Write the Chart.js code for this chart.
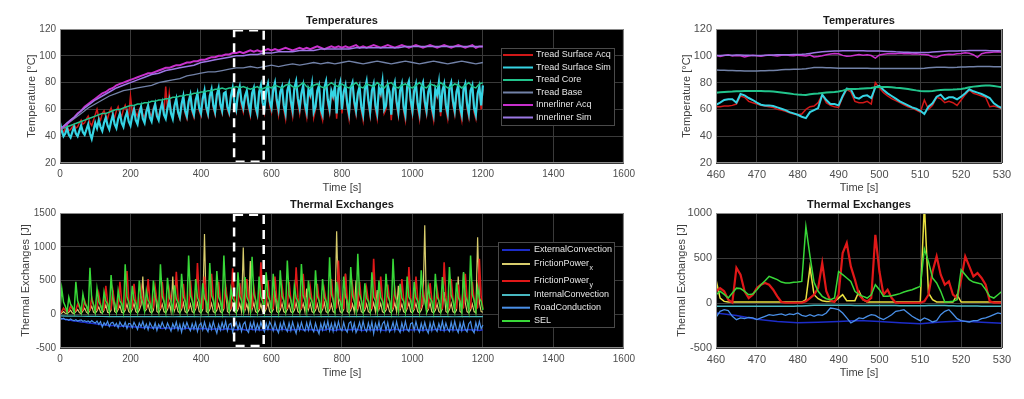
<!DOCTYPE html>
<html>
<head>
<meta charset="utf-8">
<script src="https://cdn.jsdelivr.net/npm/chart.js@4.4.0/dist/chart.umd.min.js"></script>
<style>
  body { margin: 0; background: #fff; width: 1024px; height: 399px; overflow: hidden; position: relative; }
  canvas { position: absolute; }
</style>
</head>
<body>
<canvas id="tempAll" width="640" height="195" style="left:0;top:0"></canvas>
<canvas id="heatAll" width="640" height="204" style="left:0;top:195px"></canvas>
<canvas id="tempZoom" width="384" height="195" style="left:640px;top:0"></canvas>
<canvas id="heatZoom" width="384" height="204" style="left:640px;top:195px"></canvas>
<script>
// ---------- full run (0..1200 s) : temperatures ----------
const TEMP_LABELS = ['Tread Surface Acq', 'Tread Surface Sim', 'Tread Core', 'Tread Base', 'Innerliner Acq', 'Innerliner Sim'];
// every 5 s
const surfAcq = [
  46,45,43,46,48,44,45,47,49,46,47,50,52,49,50,53,55,50,48,52,56,
  60,54,52,57,59,55,53,58,61,56,54,59,62,57,55,60,63,58,56,70,
  58,61,57,55,60,62,56,54,60,63,57,55,61,64,57,55,60,65,58,77,
  60,72,58,54,62,67,57,53,62,68,57,53,64,69,58,54,65,70,59,55,
  66,72,60,55,68,73,61,56,69,74,62,57,70,71,60,56,68,74,63,58,
  70,75,63,58,68,72,61,55,70,74,60,55,71,76,62,57,72,77,63,58,
  73,78,64,56,71,75,60,53,72,77,63,55,74,79,65,57,70,76,61,54,
  73,69,77,54,60,72,76,57,52,74,79,64,57,72,68,75,53,73,78,57,
  71,76,61,53,74,78,63,56,70,75,59,52,73,79,64,55,72,77,60,53,
  74,70,79,57,60,76,71,52,73,78,63,55,72,77,59,52,75,79,64,56,
  72,77,61,53,74,78,63,56,71,76,59,52,73,69,78,55,72,77,60,53,
  74,78,63,56,71,76,59,52,73,77,61,54,72,76,58,53,70,75,60,75
];
const surfSim = [
  50,44,40,42,46,41,39,43,47,42,40,44,48,43,41,45,49,42,38,44,50,
  46,52,47,44,50,54,48,45,51,56,49,46,53,57,50,47,54,58,51,48,
  55,60,52,49,57,62,53,50,58,63,54,51,59,64,55,52,60,65,56,53,
  61,67,57,53,63,68,58,54,64,70,59,55,66,71,60,56,67,72,61,57,
  68,74,62,57,70,75,63,58,71,76,64,59,72,73,62,58,70,76,65,60,
  72,77,66,61,70,74,64,58,72,76,62,57,73,78,65,60,74,79,66,61,
  75,80,67,60,73,77,63,57,74,79,66,59,76,81,68,61,72,78,64,58,
  75,71,79,58,62,74,78,60,56,76,81,67,60,74,70,77,57,75,80,60,
  73,78,64,57,76,80,66,59,72,77,62,56,75,81,67,58,74,79,63,57,
  76,72,81,60,63,78,73,56,75,80,66,58,74,79,62,56,77,81,67,59,
  74,79,64,57,76,80,66,59,73,78,62,56,75,71,80,58,74,79,63,57,
  76,80,66,59,73,78,62,56,75,79,64,57,74,78,61,56,72,77,63,78
];
// every 10 s
const treadCore = [
  45,46,47,48,49,50,51,52,53,54,55,
  56,57,57,58,59,60,60,61,62,63,
  63,64,64,65,65,66,66,67,67,68,
  68,69,69,70,70,71,71,72,72,73,
  73,74,74,75,75,76,75,76,76,77,
  76,77,76,75,76,77,75,76,77,76,
  78,77,76,78,79,77,76,78,80,77,
  76,78,79,77,76,78,80,78,77,79,
  77,76,78,80,77,76,79,78,77,80,
  78,76,79,80,77,76,78,79,77,76,
  78,80,77,76,79,78,77,80,78,76,
  77,79,78,76,78,80,77,76,79,80
];
// every 20 s
const treadBase = [
  45,49,53,57,61,64,67,70,72,74,
  75,76,77,78,80,81,82,83,85,86,
  87,88,88,89,90,91,91,92,91,92,
  93,92,93,94,93,94,95,94,95,94,
  95,96,95,94,95,96,95,94,95,96,
  95,94,95,96,95,94,95,96,95,94,
  95
];
// every 10 s
const innerAcq = [
  45,47,49,52,54,57,59,62,64,66,68,
  70,72,73,75,76,78,79,80,81,82,
  83,84,85,86,87,87,88,89,90,91,
  91,92,93,93,94,95,95,96,96,97,
  97,98,99,99,100,100,101,101,102,102,
  103,102,103,104,103,104,103,104,105,104,
  105,104,105,106,105,104,105,106,105,106,
  105,106,107,106,105,106,107,106,107,106,
  107,106,107,108,106,107,106,107,108,107,
  106,107,108,107,106,107,108,107,106,107,
  108,107,106,107,108,107,106,107,108,107,
  106,107,108,107,106,107,108,106,107,107
];
// every 20 s
const innerSim = [
  45,50,54,59,63,67,70,73,76,78,
  80,82,84,86,87,89,90,91,92,93,
  95,96,97,98,99,100,100,101,101,102,
  102,103,103,103,104,104,104,105,105,105,
  105,105,106,106,106,106,106,106,106,107,
  107,107,107,107,107,107,107,107,107,107,
  107
];

// ---------- full run : thermal exchanges ----------
const HEAT_LABELS = ['ExternalConvection', 'FrictionPower_x', 'FrictionPower_y', 'InternalConvection', 'RoadConduction', 'SEL'];
// every 10 s
const extConv = [
  -60,-70,-80,-90,-100,-105,-115,-120,-130,-135,-140,
  -150,-160,-155,-170,-165,-175,-180,-170,-185,-180,
  -190,-185,-195,-200,-190,-205,-195,-200,-210,-200,
  -205,-215,-200,-210,-220,-205,-215,-210,-220,-215,
  -210,-220,-225,-215,-220,-230,-215,-220,-225,-230,
  -220,-225,-235,-220,-230,-225,-235,-230,-220,-230,
  -225,-235,-220,-230,-240,-225,-230,-220,-235,-230,
  -225,-230,-240,-225,-235,-220,-230,-240,-225,-230,
  -235,-225,-230,-220,-235,-240,-225,-230,-235,-225,
  -230,-240,-225,-235,-220,-230,-240,-225,-230,-235,
  -225,-230,-240,-225,-235,-230,-220,-235,-240,-225,
  -230,-235,-225,-240,-230,-225,-235,-230,-240,-230
];
// every 5 s
const frictionX = [
  0,20,40,15,10,30,60,20,10,40,70,25,10,50,90,30,10,60,120,30,
  15,50,110,30,15,60,140,30,20,60,350,40,20,70,130,30,20,60,150,40,
  20,70,160,40,20,60,140,560,40,70,150,40,20,60,380,40,20,70,150,40,
  20,70,160,40,560,60,150,40,20,70,170,40,20,60,150,40,20,80,170,40,
  20,70,1190,40,20,70,160,40,20,60,150,40,20,80,400,40,20,70,160,40,
  20,70,160,40,990,60,150,40,790,70,170,40,20,60,150,40,20,80,170,40,
  20,70,350,40,20,60,160,40,20,70,150,40,20,60,170,40,20,80,160,40,
  380,70,160,40,20,60,150,40,20,70,170,40,20,60,150,40,20,1230,170,40,
  20,70,600,40,20,60,150,40,500,70,170,40,20,60,150,40,20,80,170,40,
  360,70,160,40,20,60,150,40,20,70,170,40,420,60,150,40,20,80,170,40,
  20,70,160,40,20,60,150,1320,20,70,170,40,20,60,150,40,20,80,330,40,
  20,70,160,40,20,60,560,40,20,620,170,40,20,60,150,40,20,1140,170,40,30
];
// every 5 s
const frictionY = [
  20,
  40,90,60,30, 50,120,80,40, 60,150,100,40, 70,200,120,50, 60,250,140,50,
  80,300,150,60, 70,420,180,60, 80,350,170,60, 90,480,200,70, 80,640,220,70,
  90,450,200,70, 100,380,190,80, 90,520,210,70, 100,400,200,80, 90,480,210,70,
  100,360,190,80, 90,630,230,70, 100,450,210,80, 90,500,220,70, 100,760,260,80,
  90,560,230,70, 100,600,240,80, 90,480,220,70, 100,420,210,80, 90,680,250,70,
  100,460,220,80, 90,520,230,70, 100,400,210,80, 90,770,260,70, 100,500,220,80,
  90,560,230,70, 100,420,210,80, 90,480,220,70, 100,696,250,80, 90,600,240,70,
  100,400,210,80, 90,450,220,70, 100,360,200,80, 90,520,230,70, 100,795,260,80,
  90,600,240,70, 100,420,210,80, 90,480,220,70, 100,380,200,80, 90,820,260,70,
  100,560,230,80, 90,440,210,70, 100,380,200,80, 90,520,230,70, 100,700,250,80,
  90,560,230,70, 100,400,210,80, 90,460,220,70, 100,380,200,80, 90,770,260,70,
  100,520,230,80, 90,440,210,70, 100,600,240,80, 90,480,220,70, 100,820,260,80
];
// every 20 s
const intConv = [
  -25,-27,-29,-30,-31,-32,-33,-34,-34,-35,
  -35,-36,-35,-36,-35,-36,-37,-36,-35,-36,
  -37,-36,-35,-36,-37,-36,-35,-36,-37,-36,
  -35,-36,-37,-36,-35,-36,-37,-36,-35,-36,
  -37,-36,-35,-36,-37,-36,-35,-36,-37,-36,
  -35,-36,-37,-36,-35,-36,-37,-36,-35,-36,
  -36
];
// every 5 s
const roadCond = [
  -50,-70,-60,-80,-75,-90,-70,-85,-95,-80,-100,-90,-85,-105,-95,-110,-100,-120,-95,-115,
  -130,-100,-150,-110,-190,-125,-160,-105,-180,-130,-120,-175,-135,-200,-115,-160,-185,-120,-210,-135,
  -140,-200,-120,-170,-225,-130,-185,-110,-210,-145,-230,-125,-175,-215,-130,-240,-150,-200,-120,-185,
  -220,-130,-190,-250,-140,-205,-115,-235,-150,-265,-135,-210,-120,-195,-245,-140,-220,-125,-255,-160,
  -130,-230,-115,-210,-260,-140,-225,-110,-205,-280,-150,-235,-125,-215,-105,-245,-150,-135,-265,-175,
  -120,-225,-140,-255,-150,-115,-235,-270,-130,-215,-110,-245,-145,-230,-120,-205,-260,-135,-225,-115,
  -165,-245,-120,-220,-275,-135,-230,-110,-205,-255,-130,-240,-115,-210,-285,-140,-235,-120,-215,-250,
  -125,-235,-110,-210,-260,-130,-225,-290,-140,-235,-120,-220,-105,-245,-140,-255,-125,-230,-110,-215,
  -245,-120,-225,-265,-135,-110,-240,-130,-270,-215,-120,-235,-105,-215,-255,-130,-235,-115,-285,-140,
  -230,-115,-250,-140,-105,-235,-125,-260,-215,-120,-245,-110,-220,-270,-130,-235,-105,-225,-255,-140,
  -125,-240,-110,-215,-265,-135,-235,-120,-225,-280,-130,-240,-115,-215,-255,-140,-225,-105,-240,-130,
  -220,-255,-120,-235,-105,-215,-270,-130,-240,-115,-225,-260,-140,-110,-235,-275,-125,-225,-105,-215,-160
];
// every 5 s
const sel = [
  60,
  380,180,120,30, 250,150,110,25, 480,200,130,30, 300,160,120,35, 690,220,140,30,
  380,190,130,40, 330,200,150,35, 580,230,160,40, 350,200,150,30, 740,260,170,40,
  420,220,160,35, 500,240,170,45, 350,210,160,40, 500,250,180,45, 740,270,190,40,
  540,250,180,45, 430,230,170,40, 600,260,190,50, 870,280,200,45, 520,250,180,40,
  460,240,180,50, 760,280,200,45, 640,260,190,40, 870,300,210,50, 380,240,190,45,
  620,270,200,50, 550,260,190,45, 850,300,210,50, 560,260,190,45, 620,270,200,50,
  600,260,190,40, 650,270,200,50, 795,290,210,45, 420,240,190,50, 745,280,200,45,
  500,250,190,50, 650,270,200,40, 520,250,190,50, 845,300,210,45, 480,240,190,50,
  560,260,190,45, 700,280,200,50, 895,300,210,40, 460,240,190,50, 620,260,200,45,
  500,250,190,50, 600,270,200,45, 820,290,210,50, 450,240,190,40, 560,260,200,50,
  480,250,190,45, 650,270,200,50, 420,240,190,40, 600,260,200,50, 550,250,190,45,
  700,280,200,50, 470,250,190,40, 620,270,200,50, 870,290,210,45, 400,240,190,60
];

// ---------- zoom window (460..530 s), every 1 s ----------
const zSurfAcq = [
  62,62,62.5,62.5,63,64,70,69,66,65,
  64,63,62.5,62,61.5,60,59.5,58.5,57.5,56.5,
  56,56.5,60,62,62.5,65,71,65,63,62,
  61.5,69,75,73,66,65,65,66,64,80,
  76,72.5,70,68,66.5,65,63.5,62,61,59.5,
  58,67,60,63,69,68,65,66,65,63,
  67,71,74.5,72,71,70,69,62,62.5,61.5,60.5
];
const zSurfSim = [
  63.3,65,67,67.5,67.5,65,71.5,70.5,68.5,67,
  65,63.5,63,63,62.5,61.5,60.5,59.5,58,57,
  56,54.5,53.5,58,59.5,61,71,67,64,64,
  63,70,75.5,75,69,68,70,70.5,68.5,76.5,
  77.5,74.5,72,70,68,66,64.5,63,61.5,60.5,
  59,56.5,62,64.5,69.5,71,67.5,69,69,67.5,
  69.5,72,75,73.5,72.5,71.5,70,68.5,64.5,62.5,61
];
const zCore = [
  72.5,72.8,73,73.2,73.3,73.5,73.6,73.7,73.7,73.7,
  73.7,73.7,73.6,73.5,73.3,73,72.6,72.2,71.8,71.4,
  71.1,70.9,70.8,71.3,71.6,71.8,72.3,72.6,72.8,73,
  73.3,74,74.8,75.2,75.3,75.4,75.6,75.8,76,76.5,
  76.8,76.8,76.7,76.5,76.2,76,75.6,75.2,74.7,74.2,
  73.8,73.5,73.6,73.8,74.2,74.5,74.6,74.7,74.8,75,
  75.3,75.8,76.5,77,77.3,77.6,77.8,77.8,77.5,77,76.5
];
const zBase = [
  89.4,89.3,89.2,89.1,89,88.9,88.8,88.7,88.7,88.7,
  88.7,88.8,88.9,89,89.1,89.3,89.5,89.7,89.8,89.9,
  90,90.1,90.3,90.8,91.2,91.3,91.2,91.1,91,90.9,
  90.8,90.8,90.7,90.7,90.7,90.8,90.8,90.7,90.6,90.6,
  90.6,90.6,90.5,90.5,90.5,90.5,90.5,90.5,90.5,90.5,
  90.6,90.7,91,91.3,91.5,91.5,91.4,91.3,91.3,91.4,
  91.6,91.7,91.8,91.9,92,92,92,92,91.9,91.9,91.8
];
const zInnerAcq = [
  100.5,99.5,100.2,100.8,99.8,100.3,100,99.2,99.8,100.4,
  100.1,99.6,100.3,100.6,100.2,99.9,100.4,100.7,100.3,100.1,
  100.5,100.2,99.8,100.6,99.2,99.5,100.1,100.8,101.3,101.8,
  101.5,100.3,99.6,99.8,100.4,100.9,100.5,100.8,100.2,98.3,
  100.6,101.2,101.5,101.8,101.6,101.9,101.5,101.7,101.3,101.6,
  101.2,101,100.6,99.3,98.9,100.2,100.8,101.2,100.9,101.5,
  101.8,102.2,101.9,100.8,98.9,101.5,102.2,102.5,102.8,103,102.6
];
const zInnerSim = [
  100.2,100.3,100.4,100.5,100.5,100.6,100.6,100.5,100.4,100.3,
  100.3,100.3,100.4,100.5,100.6,100.7,100.7,100.8,100.8,100.9,
  101,101.1,101.3,101.8,102.3,102.7,103,103.2,103.4,103.5,
  103.6,103.7,103.8,103.8,103.8,103.8,103.7,103.6,103.6,103.5,
  103.5,103.4,103.3,103.2,103,102.9,102.7,102.6,102.5,102.4,
  102.4,102.4,102.5,102.8,103.1,103.3,103.4,103.5,103.5,103.6,
  103.7,103.8,103.9,104,104,104,103.9,103.8,103.8,103.7,103.6
];
// external convection every 5 s
const zExtConv = [-110,-140,-180,-205,-220,-215,-205,-195,-205,-220,-230,-210,-200,-215,-225];
const zFrictionX = [
  260,55,18,10,10,10,10,10,10,10,
  10,10,10,10,10,10,10,10,10,10,
  10,10,37,396,92,48,26,18,18,18,
  55,92,26,26,26,130,37,11,11,11,
  11,11,11,11,11,11,11,11,11,11,
  11,1100,111,37,11,11,11,11,11,92,
  11,11,11,11,11,11,11,11,11,11,11
];
const zFrictionY = [
  130,166,130,37,5,390,315,130,55,92,
  166,203,222,203,148,74,11,3,3,3,
  3,3,18,55,92,166,444,130,26,11,
  92,555,666,407,260,92,37,18,55,758,
  350,92,148,55,3,3,3,3,3,3,
  3,18,92,350,518,315,203,240,92,55,
  260,518,407,296,333,278,203,18,5,5,5
];
const zIntConv = [
  -36,-36,-36,-35,-35,-35,-35,-35,-35,-35,
  -35,-35,-35,-35,-35,-35,-35,-35,-35,-35,
  -34,-33,-31,-28,-26,-25,-25,-25,-25,-25,
  -25,-26,-26,-26,-27,-27,-27,-27,-28,-28,
  -28,-28,-29,-29,-29,-30,-30,-30,-31,-31,
  -31,-30,-28,-27,-27,-28,-29,-30,-31,-32,
  -33,-33,-34,-34,-34,-35,-35,-35,-35,-35,-35
];
const zRoadCond = [
  -159,-93,-74,-85,-148,-185,-166,-174,-159,-166,
  -185,-166,-148,-130,-137,-130,-122,-137,-122,-130,
  -111,-137,-148,-130,-148,-130,-137,-111,-56,-63,
  -74,-111,-166,-222,-196,-166,-174,-148,-130,-137,
  -166,-185,-159,-130,-93,-85,-74,-111,-148,-174,
  -196,-166,-185,-211,-196,-130,-93,-74,-122,-174,
  -196,-204,-211,-196,-196,-174,-166,-148,-130,-111,-122
];
const zSel = [
  92,130,95,55,110,165,160,130,92,100,
  148,203,248,296,278,260,233,222,222,230,
  233,240,850,520,230,130,74,48,37,55,
  350,315,278,240,130,92,74,55,92,203,
  148,74,74,80,92,104,122,137,148,166,
  185,600,460,278,222,130,11,15,20,37,
  370,315,260,233,222,210,148,74,55,92,130
];

// dashed window drawn on the full-run plots
const WINDOW_T = [494, 578];
const WINDOW_TEMP = [21, 119];
const WINDOW_HEAT = [-470, 1475];

const FONT = '"Liberation Sans", Arial, Helvetica, sans-serif';
Chart.defaults.font.family = FONT;

// samples on a regular time grid -> {x,y}
function pts(t0, dt, vals) {
  return vals.map((v, i) => ({ x: t0 + i * dt, y: v }));
}

function line(label, color, width, data) {
  return { label, data, borderColor: color, borderWidth: width, pointRadius: 0, tension: 0, fill: false };
}

// black axes box, frame, title, dashed window, legend
const matlabAxes = {
  id: 'matlabAxes',
  beforeDraw(chart) {
    const { ctx, chartArea: a } = chart;
    ctx.save();
    ctx.fillStyle = '#000';
    ctx.fillRect(a.left, a.top, a.right - a.left, a.bottom - a.top);
    ctx.restore();
  },
  afterDraw(chart, args, opts) {
    const { ctx, chartArea: a } = chart;
    const sx = chart.scales.x, sy = chart.scales.y;
    ctx.save();

    if (opts.window) {
      const x0 = sx.getPixelForValue(opts.window.t[0]);
      const x1 = sx.getPixelForValue(opts.window.t[1]);
      const y0 = sy.getPixelForValue(opts.window.y[1]);
      const y1 = sy.getPixelForValue(opts.window.y[0]);
      ctx.strokeStyle = '#fff';
      ctx.lineWidth = 2.5;
      ctx.setLineDash([9, 6]);
      ctx.strokeRect(x0, y0, x1 - x0, y1 - y0);
      ctx.setLineDash([]);
    }

    if (opts.legend) {
      const L = opts.legend;
      ctx.fillStyle = '#000';
      ctx.fillRect(L.x, L.y, L.w, L.h);
      ctx.strokeStyle = '#4a4a4a';
      ctx.lineWidth = 1;
      ctx.strokeRect(L.x + 0.5, L.y + 0.5, L.w, L.h);
      chart.data.datasets.forEach((ds, i) => {
        const y = L.rows[i];
        ctx.strokeStyle = ds.borderColor;
        ctx.lineWidth = 2;
        ctx.beginPath();
        ctx.moveTo(L.x0, y);
        ctx.lineTo(L.x1, y);
        ctx.stroke();
        const parts = ds.label.split('_');
        ctx.fillStyle = '#e6e6e6';
        ctx.textAlign = 'left';
        ctx.textBaseline = 'middle';
        ctx.font = '9px ' + FONT;
        ctx.fillText(parts[0], L.tx, y);
        if (parts[1]) {
          const w = ctx.measureText(parts[0]).width;
          ctx.font = '7px ' + FONT;
          ctx.fillText(parts[1], L.tx + w + 0.5, y + 4);
        }
      });
    }

    ctx.strokeStyle = '#8a8a8a';
    ctx.lineWidth = 1;
    ctx.strokeRect(a.left + 0.5, a.top + 0.5, a.right - a.left - 1, a.bottom - a.top - 1);

    ctx.fillStyle = '#1a1a1a';
    ctx.font = 'bold 11px ' + FONT;
    ctx.textAlign = 'center';
    ctx.textBaseline = 'middle';
    ctx.fillText(opts.title, (a.left + a.right) / 2, a.top - 8);
    ctx.restore();
  }
};

function makeChart(id, datasets, o) {
  // later datasets on top, as in the original plot
  datasets.forEach((d, i) => { d.order = datasets.length - i; });
  return new Chart(document.getElementById(id), {
    type: 'line',
    data: { datasets },
    options: {
      responsive: false,
      animation: false,
      devicePixelRatio: 1,
      events: [],
      layout: { padding: o.pad },
      plugins: {
        legend: { display: false },
        tooltip: { enabled: false },
        matlabAxes: { title: o.title, window: o.window, legend: o.legend }
      },
      scales: {
        x: {
          type: 'linear', min: o.x[0], max: o.x[1],
          grid: { color: '#3a3a3a', drawTicks: false },
          border: { display: false },
          ticks: { stepSize: o.x[2], padding: 5, color: '#4d4d4d', font: { size: o.tickSize }, maxRotation: 0, autoSkip: false, callback: v => String(v) },
          title: { display: true, text: 'Time [s]', color: '#404040', font: { size: 11 }, padding: 0 },
          afterFit: s => { s.height = 32; }
        },
        y: {
          type: 'linear', min: o.y[0], max: o.y[1],
          grid: { color: '#3a3a3a', drawTicks: false },
          border: { display: false },
          ticks: { stepSize: o.y[2], padding: 4, color: '#4d4d4d', font: { size: o.tickSize }, callback: v => String(v) },
          title: { display: true, text: o.yTitle, color: '#404040', font: { size: 11 }, padding: { top: o.yTitlePad, bottom: 0 } },
          afterFit: s => { s.width = o.yWidth; }
        }
      }
    },
    plugins: [matlabAxes]
  });
}

makeChart('tempAll', [
  line(TEMP_LABELS[0], '#d01818', 1.5, pts(0, 5, surfAcq)),
  line(TEMP_LABELS[1], '#35d4e4', 2.2, pts(0, 5, surfSim)),
  line(TEMP_LABELS[2], '#22c48c', 1.5, pts(0, 10, treadCore)),
  line(TEMP_LABELS[3], '#7282a8', 1.3, pts(0, 20, treadBase)),
  line(TEMP_LABELS[4], '#c830cc', 2, pts(0, 10, innerAcq)),
  line(TEMP_LABELS[5], '#9c78e4', 1.5, pts(0, 20, innerSim))
], {
  title: 'Temperatures', yTitle: 'Temperature [°C]',
  x: [0, 1600, 200], y: [20, 120, 20], tickSize: 10,
  pad: { top: 29, right: 12, bottom: 0, left: 0 }, yWidth: 60, yTitlePad: 25,
  window: { t: WINDOW_T, y: WINDOW_TEMP },
  legend: { x: 501, y: 48, w: 113, h: 77, rows: [55, 67.5, 80, 92.5, 105, 117.5], x0: 503, x1: 533, tx: 536 }
});

makeChart('heatAll', [
  line(HEAT_LABELS[0], '#1c2cc8', 1.5, pts(0, 10, extConv)),
  line(HEAT_LABELS[1], '#d8cc6c', 1.2, pts(0, 5, frictionX)),
  line(HEAT_LABELS[2], '#e01818', 1.6, pts(0, 5, frictionY)),
  line(HEAT_LABELS[3], '#48b8c0', 1.2, pts(0, 20, intConv)),
  line(HEAT_LABELS[4], '#4a90e8', 1.2, pts(0, 5, roadCond)),
  line(HEAT_LABELS[5], '#38d838', 1.5, pts(0, 5, sel))
], {
  title: 'Thermal Exchanges', yTitle: 'Thermal Exchanges [J]',
  x: [0, 1600, 200], y: [-500, 1500, 500], tickSize: 10,
  pad: { top: 18, right: 12, bottom: 19, left: 0 }, yWidth: 60, yTitlePad: 19,
  window: { t: WINDOW_T, y: WINDOW_HEAT },
  legend: { x: 498, y: 47, w: 116, h: 85, rows: [55, 69, 86, 100, 112.7, 126], x0: 502, x1: 530, tx: 534 }
});

makeChart('tempZoom', [
  line(TEMP_LABELS[0], '#d01818', 1.5, pts(460, 1, zSurfAcq)),
  line(TEMP_LABELS[1], '#35d4e4', 2, pts(460, 1, zSurfSim)),
  line(TEMP_LABELS[2], '#22c48c', 2, pts(460, 1, zCore)),
  line(TEMP_LABELS[3], '#7282a8', 1.5, pts(460, 1, zBase)),
  line(TEMP_LABELS[4], '#c830cc', 1.5, pts(460, 1, zInnerAcq)),
  line(TEMP_LABELS[5], '#9c78e4', 1.5, pts(460, 1, zInnerSim))
], {
  title: 'Temperatures', yTitle: 'Temperature [°C]',
  x: [460, 530, 10], y: [20, 120, 20], tickSize: 11,
  pad: { top: 29, right: 22, bottom: 0, left: 0 }, yWidth: 76, yTitlePad: 40
});

makeChart('heatZoom', [
  line(HEAT_LABELS[0], '#1c2cc8', 1.5, pts(460, 5, zExtConv)),
  line(HEAT_LABELS[1], '#e8e040', 1.5, pts(460, 1, zFrictionX)),
  line(HEAT_LABELS[2], '#e01818', 2.2, pts(460, 1, zFrictionY)),
  line(HEAT_LABELS[3], '#48b8c0', 1.5, pts(460, 1, zIntConv)),
  line(HEAT_LABELS[4], '#4a90e8', 1.3, pts(460, 1, zRoadCond)),
  line(HEAT_LABELS[5], '#38d838', 1.5, pts(460, 1, zSel))
], {
  title: 'Thermal Exchanges', yTitle: 'Thermal Exchanges [J]',
  x: [460, 530, 10], y: [-500, 1000, 500], tickSize: 11,
  pad: { top: 18, right: 22, bottom: 19, left: 0 }, yWidth: 76, yTitlePad: 35
});
</script>
</body>
</html>
